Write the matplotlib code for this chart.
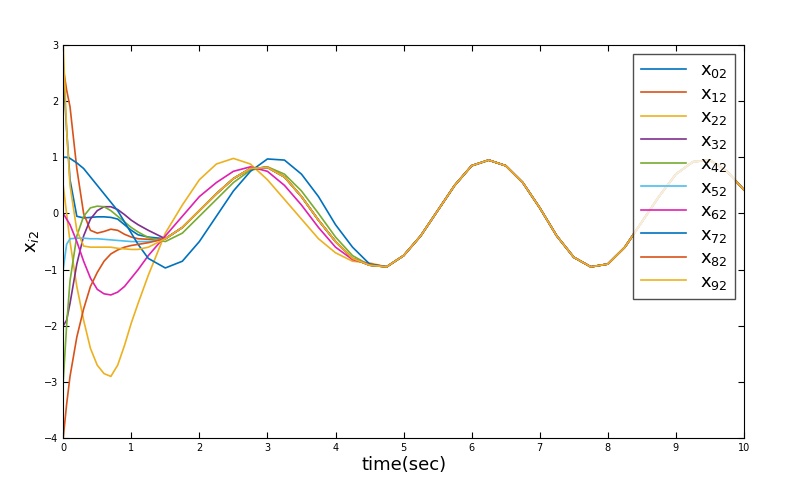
import numpy as np
import matplotlib
matplotlib.use("Agg")
import matplotlib.pyplot as plt

t_head = [0, 0.05, 0.1, 0.2, 0.3, 0.4, 0.5, 0.6, 0.7, 0.8, 0.9, 1.0, 1.1, 1.25,
          1.5, 1.75, 2.0, 2.25, 2.5, 2.75, 3.0, 3.25, 3.5, 3.75, 4.0, 4.25, 4.5]
t_tail = [4.75, 5.0, 5.25, 5.5, 5.75, 6.0, 6.25, 6.5, 6.75, 7.0, 7.25, 7.5, 7.75,
          8.0, 8.25, 8.5, 8.75, 9.0, 9.25, 9.5, 9.75, 10.0]
tail = [-0.95, -0.75, -0.4, 0.05, 0.5, 0.85, 0.95, 0.85, 0.55, 0.1, -0.4, -0.78, -0.95,
        -0.9, -0.6, -0.15, 0.3, 0.7, 0.92, 0.95, 0.75, 0.42]

main = [-0.45, -0.25, 0.05, 0.35, 0.62, 0.8, 0.82, 0.65, 0.3, -0.12, -0.5, -0.8, -0.92]

x02 = [2.5, 1.5, 0.6, -0.05, -0.08, -0.07, -0.06, -0.06, -0.07, -0.1, -0.2, -0.3, -0.38, -0.42] + main
x12 = [2.6, 2.2, 1.9, 0.8, 0.0, -0.3, -0.35, -0.32, -0.28, -0.3, -0.37, -0.42, -0.45, -0.46] + main
x22 = [0.5, 0.0, -0.5, -1.3, -1.9, -2.4, -2.7, -2.85, -2.9, -2.7, -2.35, -1.95, -1.6, -1.1,
       -0.35, 0.15, 0.6, 0.88, 0.98, 0.88, 0.6, 0.25, -0.1, -0.45, -0.7, -0.85, -0.88]
x32 = [-2.0, -1.9, -1.6, -0.9, -0.4, -0.1, 0.05, 0.12, 0.12, 0.07, -0.02, -0.12, -0.2, -0.3] + main
x42 = [-3.0, -2.0, -1.2, -0.4, -0.05, 0.1, 0.13, 0.12, 0.05, -0.05, -0.15, -0.25, -0.33, -0.43,
       -0.5, -0.35, -0.05, 0.25, 0.55, 0.77, 0.83, 0.7, 0.4, 0.0, -0.42, -0.75, -0.92]
x52 = [-1.0, -0.55, -0.45, -0.44, -0.44, -0.45, -0.45, -0.46, -0.47, -0.48, -0.49, -0.5, -0.5, -0.5] + main
x62 = [0.0, -0.1, -0.2, -0.5, -0.85, -1.15, -1.35, -1.43, -1.45, -1.4, -1.3, -1.15, -1.0, -0.75,
       -0.4, -0.05, 0.3, 0.55, 0.75, 0.83, 0.75, 0.5, 0.15, -0.25, -0.6, -0.82, -0.9]
x72 = [1.0, 1.0, 0.98, 0.9, 0.8, 0.65, 0.5, 0.35, 0.2, 0.05, -0.15, -0.35, -0.55, -0.8,
       -0.97, -0.85, -0.5, -0.05, 0.4, 0.75, 0.97, 0.95, 0.7, 0.3, -0.2, -0.6, -0.9]
x82 = [-4.0, -3.4, -2.9, -2.2, -1.7, -1.3, -1.05, -0.85, -0.72, -0.65, -0.6, -0.57, -0.55, -0.52] + main
x92 = [3.0, 1.5, 0.5, -0.3, -0.58, -0.6, -0.6, -0.6, -0.6, -0.62, -0.63, -0.64, -0.64, -0.6] + main

series = [("x$_{02}$", x02, "#0072BD"), ("x$_{12}$", x12, "#D95319"), ("x$_{22}$", x22, "#EDB120"),
          ("x$_{32}$", x32, "#7E2F8E"), ("x$_{42}$", x42, "#77AC30"), ("x$_{52}$", x52, "#4DBEEE"),
          ("x$_{62}$", x62, "#E020B0"), ("x$_{72}$", x72, "#0072BD"), ("x$_{82}$", x82, "#D95319"),
          ("x$_{92}$", x92, "#EDB120")]

fig = plt.figure(figsize=(8, 4.88), dpi=100)
ax = fig.add_axes([0.079, 0.102, 0.851, 0.806])
t = t_head + t_tail
for name, v, c in series:
    ax.plot(t, v + tail, color=c, lw=1.2, label=name)
ax.set_xlim(0, 10)
ax.set_ylim(-4, 3)
ax.set_xticks(range(0, 11))
ax.set_yticks(range(-4, 4))
ax.tick_params(direction="in", labelsize=7, top=True, right=True, length=4)
ax.set_xlabel("time(sec)", fontsize=13, labelpad=2)
ax.set_ylabel("x$_{i2}$", fontsize=13, labelpad=2)
leg = ax.legend(loc="upper right", fontsize=13, frameon=True, fancybox=False,
                edgecolor="#222222", handlelength=2.5, borderaxespad=0.5, labelspacing=0.25)
leg.get_frame().set_linewidth(1.0)
fig.savefig("out.png", dpi=100)
